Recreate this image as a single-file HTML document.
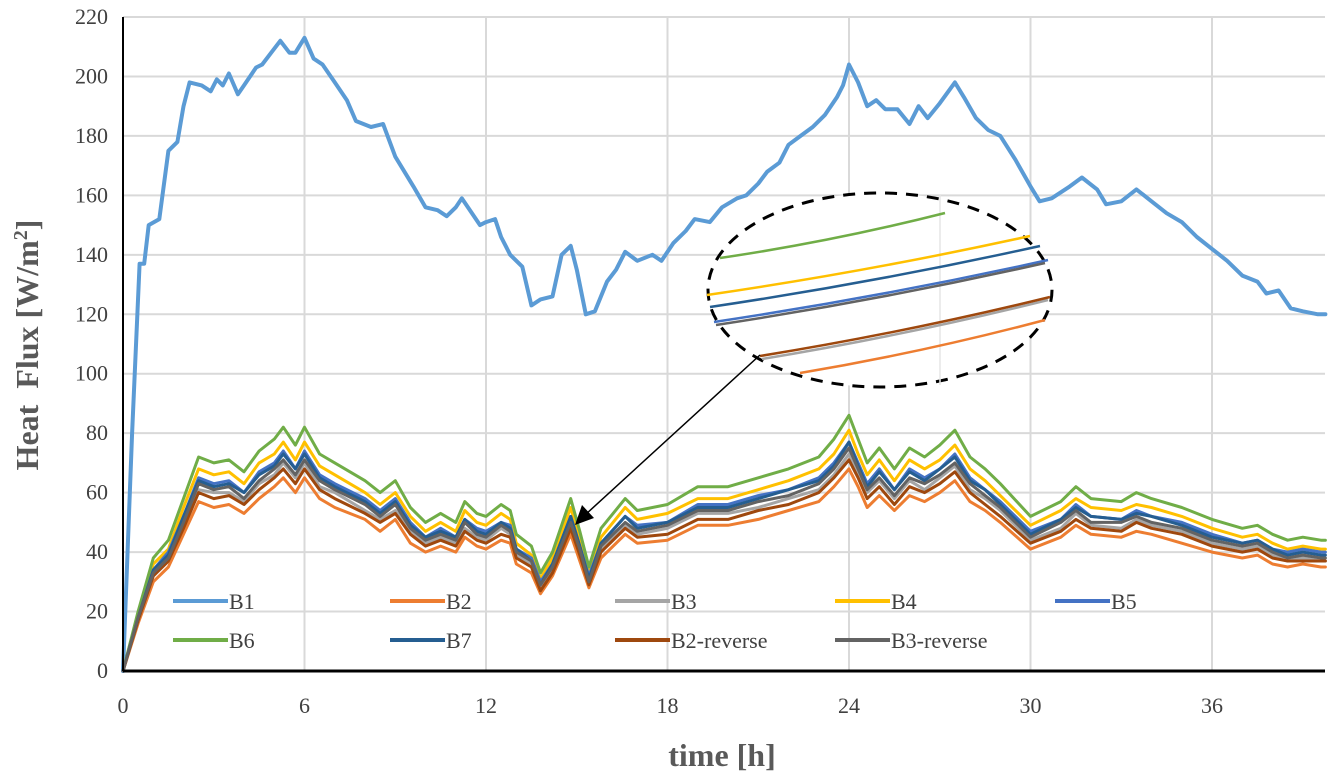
<!DOCTYPE html>
<html><head><meta charset="utf-8"><style>
body{margin:0;background:#fff}
svg{display:block}
text{font-family:"Liberation Serif",serif}
</style></head><body>
<svg id="c" width="1329" height="780" viewBox="0 0 1329 780"></svg>
<script>
const yTicks=[0,20,40,60,80,100,120,140,160,180,200,220];
const xTicks=[0,6,12,18,24,30,36];
const tB1=[0,0.3,0.55,0.7,0.85,1.2,1.5,1.8,2.0,2.2,2.6,2.9,3.1,3.3,3.5,3.8,4.0,4.4,4.6,4.9,5.2,5.5,5.7,6.0,6.3,6.6,7.0,7.4,7.7,8.2,8.6,9.0,9.6,10.0,10.4,10.7,11.0,11.2,11.4,11.8,12.0,12.3,12.5,12.8,13.2,13.5,13.8,14.2,14.5,14.8,15.0,15.3,15.6,16.0,16.3,16.6,17.0,17.5,17.8,18.2,18.6,18.9,19.4,19.8,20.3,20.6,21.0,21.3,21.7,22.0,22.4,22.8,23.2,23.6,23.8,24.0,24.3,24.6,24.9,25.2,25.6,26.0,26.3,26.6,27.0,27.5,27.8,28.2,28.6,29.0,29.5,30.0,30.3,30.7,31.3,31.7,32.2,32.5,33.0,33.5,34.0,34.5,35.0,35.5,36.0,36.5,37.0,37.5,37.8,38.2,38.6,39.0,39.5,39.75];
const B1=[0,80,137,137,150,152,175,178,190,198,197,195,199,197,201,194,197,203,204,208,212,208,208,213,206,204,198,192,185,183,184,173,163,156,155,153,156,159,156,150,151,152,146,140,136,123,125,126,140,143,135,120,121,131,135,141,138,140,138,144,148,152,151,156,159,160,164,168,171,177,180,183,187,193,197,204,198,190,192,189,189,184,190,186,191,198,193,186,182,180,172,163,158,159,163,166,162,157,158,162,158,154,151,146,142,138,133,131,127,128,122,121,120,120];
const tLow=[0,0.5,1,1.5,2,2.5,3,3.5,4,4.5,5,5.3,5.7,6,6.5,7,8,8.5,9,9.5,10,10.5,11,11.3,11.7,12,12.5,12.8,13,13.5,13.8,14.2,14.8,15.1,15.4,15.8,16.6,17,18,19,20,21,22,23,23.5,24,24.3,24.6,25,25.5,26,26.5,27,27.5,28,28.5,29,30,31,31.5,32,33,33.5,34,35,36,37,37.5,38,38.5,39,39.6,39.75];
const B2=[0,16,30,35,46,57,55,56,53,58,62,65,60,65,58,55,51,47,51,43,40,42,40,45,42,41,44,43,36,33,26,32,46,37,28,38,46,43,44,49,49,51,54,57,62,68,62,55,59,54,59,57,60,64,57,54,50,41,45,49,46,45,47,46,43,40,38,39,36,35,36,35,35];
const B3=[0,17,32,37,49,61,60,60,57,63,66,70,65,70,62,60,54,51,54,47,43,45,43,48,45,44,48,46,39,36,28,34,49,40,30,41,49,46,48,53,53,55,58,61,66,73,66,60,64,58,64,61,65,69,61,58,54,44,48,53,49,48,51,49,47,43,41,42,39,37,38,37,37];
const B4=[0,19,36,41,55,68,66,67,63,70,73,77,71,77,69,66,60,56,60,52,47,50,47,54,50,49,53,51,43,39,31,38,55,44,33,45,55,51,53,58,58,61,64,68,73,81,73,66,71,64,71,68,71,76,68,64,59,49,54,58,55,54,56,55,52,48,45,46,43,41,42,41,41];
const B5=[0,18,34,40,52,65,63,64,60,67,70,74,68,74,66,63,58,54,58,50,45,48,45,51,48,47,50,49,41,38,30,36,52,42,32,43,52,49,50,56,56,59,61,65,70,77,70,63,68,61,68,65,68,73,65,61,57,47,51,56,52,51,54,52,50,46,43,44,41,40,41,40,40];
const B6=[0,20,38,44,58,72,70,71,67,74,78,82,76,82,73,70,64,60,64,55,50,53,50,57,53,52,56,54,46,42,33,40,58,47,35,48,58,54,56,62,62,65,68,72,78,86,78,70,75,68,75,72,76,81,72,68,63,52,57,62,58,57,60,58,55,51,48,49,46,44,45,44,44];
const B7=[0,18,34,39,52,64,62,63,60,66,69,73,68,73,65,62,57,53,57,49,45,47,45,51,47,46,50,48,41,37,29,36,52,42,31,43,52,48,50,55,55,58,61,64,69,77,69,62,67,61,67,64,68,72,64,61,56,46,51,55,52,51,53,52,49,45,43,44,41,39,40,39,39];
const B2r=[0,17,32,37,48,60,58,59,56,61,65,68,63,68,61,58,53,50,53,46,42,44,42,47,44,43,46,45,38,35,27,33,48,39,29,40,48,45,46,51,51,54,56,60,65,71,65,58,62,56,62,60,63,67,60,56,52,43,47,51,48,47,50,48,46,42,40,41,38,37,37,37,37];
const B3r=[0,18,33,38,50,63,61,62,58,64,68,71,66,71,64,61,56,52,56,48,44,46,44,50,46,45,49,47,40,37,29,35,50,41,30,42,50,47,49,54,54,57,59,63,68,75,68,61,65,59,65,63,66,70,63,59,55,45,50,54,50,50,52,50,48,44,42,43,40,38,39,38,38];

const NS="http://www.w3.org/2000/svg";
const svg=document.getElementById('c');
const X0=123,X1=1325,Y0=671,Y1=17;
const xs=h=>X0+h*30.25;
const ys=v=>Y0-(v/220)*(Y0-Y1);
function el(tag,attrs,parent){const e=document.createElementNS(NS,tag);for(const k in attrs)e.setAttribute(k,attrs[k]);(parent||svg).appendChild(e);return e;}

yTicks.forEach(v=>{
  if(v>0){const g=el('line',{x1:X0,x2:X1,y1:ys(v),y2:ys(v),stroke:'#d9d9d9','stroke-width':2});
  
  }
  const t=el('text',{x:108,y:ys(v)+7,'text-anchor':'end','font-size':22,fill:'#404040'});
  t.textContent=v;
  
  
});
xTicks.forEach(h=>{
  if(h>0){const g=el('line',{x1:xs(h),x2:xs(h),y1:Y1,y2:Y0,stroke:'#d9d9d9','stroke-width':2});
  
  }
  const t=el('text',{x:xs(h),y:713,'text-anchor':'middle','font-size':22,fill:'#404040'});
  t.textContent=h;
  
  
});

const series=[
 ['B1',tB1,B1,'#5b9bd5',4],
 ['B2',tLow,B2,'#ed7d31',3],
 ['B3',tLow,B3,'#a5a5a5',3],
 ['B4',tLow,B4,'#ffc000',3],
 ['B5',tLow,B5,'#4472c4',3],
 ['B6',tLow,B6,'#70ad47',3],
 ['B7',tLow,B7,'#255e91',3],
 ['B2-reverse',tLow,B2r,'#9e480e',3],
 ['B3-reverse',tLow,B3r,'#636363',3]
];
series.forEach(s=>{
  const pts=s[1].map((h,i)=>xs(h).toFixed(1)+','+ys(s[2][i]).toFixed(1)).join(' ');
  const p=el('polyline',{points:pts,fill:'none',stroke:s[3],'stroke-width':s[4],'stroke-linejoin':'round','stroke-linecap':'round'});
  
  
});

const ax1=el('line',{x1:X0,x2:X0,y1:Y1,y2:Y0,stroke:'#000','stroke-width':2});


const ax2=el('line',{x1:X0,x2:X1,y1:Y0,y2:Y0,stroke:'#000','stroke-width':3});



const legPos=[[173,601],[390,601],[615,601],[835,601],[1055,601],[173,640],[390,640],[615,640],[835,640]];
series.forEach((s,i)=>{
  const [lx,ly]=legPos[i];
  const g=el('g',{});
  
  
  el('line',{x1:lx,x2:lx+55,y1:ly,y2:ly,stroke:s[3],'stroke-width':4},g);
  const t=el('text',{x:lx+56,y:ly+8,'font-size':22,fill:'#404040'},g);
  t.textContent=s[0];
});

const ins=el('g',{});


el('ellipse',{cx:880,cy:290,rx:172,ry:97,fill:'#fff',stroke:'#000','stroke-width':3,'stroke-dasharray':'12 9'},ins);
el('line',{x1:940,x2:940,y1:195,y2:385,stroke:'#e6e6e6','stroke-width':1.5},ins);
const insetLines=[
 ['#70ad47',720,258,945,213],
 ['#ffc000',707,295,1030,236],
 ['#255e91',710,307,1040,246],
 ['#4472c4',714,322,1048,260],
 ['#636363',716,325,1045,263],
 ['#a5a5a5',762,359,1048,300],
 ['#9e480e',760,356,1050,297],
 ['#ed7d31',800,373,1045,320]
];
insetLines.forEach(l=>{
  el('path',{d:`M${l[1]},${l[2]} Q${(l[1]+l[3])/2},${(l[2]+l[4])/2+6} ${l[3]},${l[4]}`,fill:'none',stroke:l[0],'stroke-width':2.5},ins);
});

const ar=el('g',{});


el('line',{x1:760,y1:355,x2:585,y2:515,stroke:'#000','stroke-width':1.5},ar);
el('polygon',{points:'575,525 582,505 594,518',fill:'#000'},ar);

const yt=el('text',{x:0,y:0,transform:'translate(38,345) rotate(-90)','text-anchor':'middle','font-size':32,'font-weight':'bold',fill:'#595959'});
yt.innerHTML='Heat&#160;&#160;Flux [W/m<tspan dy="-11" font-size="20">2</tspan><tspan dy="11">]</tspan>';


const xt=el('text',{x:722,y:766,'text-anchor':'middle','font-size':32,'font-weight':'bold',fill:'#595959'});
xt.textContent='time [h]';


</script>
</body></html>
